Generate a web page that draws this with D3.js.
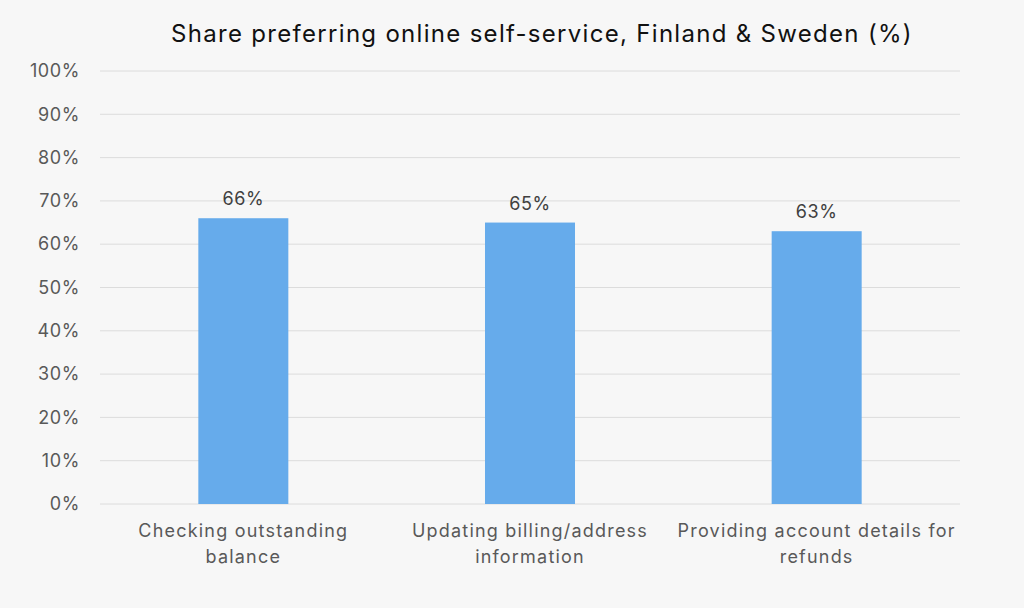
<!DOCTYPE html>
<html>
<head>
<meta charset="utf-8">
<script src="https://cdn.jsdelivr.net/npm/d3@7"></script>
<style>
  html, body { margin: 0; padding: 0; background: #f7f7f7; }
  svg { display: block; font-family: Inter, "Open Sans", sans-serif; }
</style>
</head>
<body>
<svg id="chart" width="1024" height="608"></svg>
<script>
// data
const categories = [
  ['Checking outstanding', 'balance'],
  ['Updating billing/address', 'information'],
  ['Providing account details for', 'refunds']
]
const values = [66, 65, 63]
const yTicks = [0, 10, 20, 30, 40, 50, 60, 70, 80, 90, 100]
const title = 'Share preferring online self-service, Finland & Sweden (%)'

const width = 1024, height = 608
const margin = {top: 71, right: 64, bottom: 104, left: 100}

const svg = d3.select('#chart')

svg.append('rect')
  .attr('width', width)
  .attr('height', height)
  .attr('fill', '#f7f7f7')

const x = d3.scaleBand()
  .domain(d3.range(categories.length))
  .range([margin.left, width - margin.right])
  .paddingInner(0.686)
  .paddingOuter(0.343)

const y = d3.scaleLinear()
  .domain([0, 100])
  .range([height - margin.bottom, margin.top])

// gridlines
svg.append('g')
  .selectAll('line').data(yTicks).join('line')
  .attr('x1', margin.left)
  .attr('x2', width - margin.right)
  .attr('y1', d => y(d))
  .attr('y2', d => y(d))
  .attr('stroke', '#dcdcdc')
  .attr('stroke-width', 1)

// y axis labels
const yAxis = d3.axisLeft(y).tickValues(yTicks).tickFormat(d => d + '%').tickSize(0).tickPadding(20)
svg.append('g')
  .attr('transform', `translate(${margin.left},0)`)
  .call(yAxis)
  .call(g => g.select('.domain').remove())
  .selectAll('text')
    .attr('fill', '#595959')
    .style('font-size', '18px')
    .style('letter-spacing', '0.6px')
    .style('font-family', 'Inter, "Open Sans", sans-serif')

// bars
svg.append('g')
  .selectAll('rect').data(values).join('rect')
  .attr('x', (d, i) => x(i))
  .attr('y', d => y(d))
  .attr('width', x.bandwidth())
  .attr('height', d => y(0) - y(d))
  .attr('fill', '#66abeb')

// value labels
svg.append('g')
  .selectAll('text').data(values).join('text')
  .attr('x', (d, i) => x(i) + x.bandwidth() / 2)
  .attr('y', d => y(d) - 13)
  .attr('text-anchor', 'middle')
  .attr('fill', '#404040')
  .style('font-size', '18px')
  .style('letter-spacing', '0.6px')
  .text(d => d + '%')

// category labels
svg.append('g')
  .selectAll('text').data(categories).join('text')
  .attr('x', (d, i) => x(i) + x.bandwidth() / 2)
  .attr('y', height - margin.bottom + 33)
  .attr('text-anchor', 'middle')
  .attr('fill', '#595959')
  .style('font-size', '18px')
  .style('letter-spacing', '1.2px')
  .each(function (lines) {
    const t = d3.select(this)
    lines.forEach((line, j) => {
      t.append('tspan')
        .attr('x', t.attr('x'))
        .attr('dy', j === 0 ? 0 : 26)
        .text(line)
    })
  })

// title
svg.append('text')
  .attr('x', 542)
  .attr('y', 42)
  .attr('text-anchor', 'middle')
  .attr('fill', '#111')
  .style('font-size', '24px')
  .style('letter-spacing', '1.3px')
  .text(title)
</script>
</body>
</html>
